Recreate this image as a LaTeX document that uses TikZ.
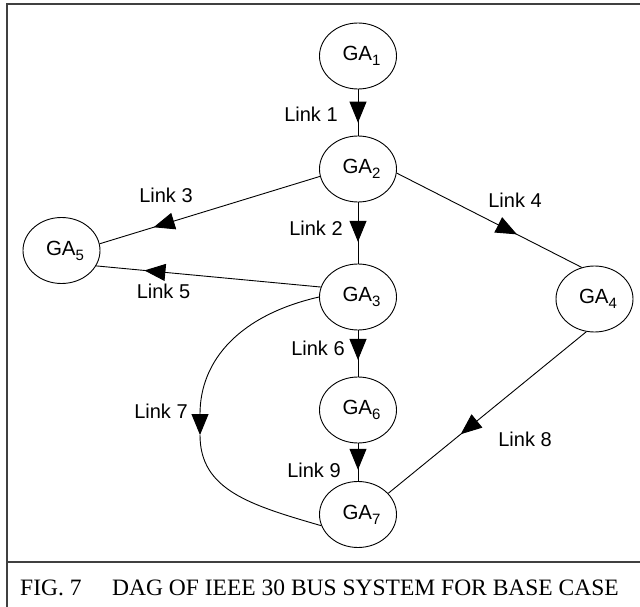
\documentclass[tikz,border=0pt]{standalone}
\usepackage{fontspec}
\setmainfont{Liberation Sans}
\newfontfamily\capfont{Liberation Serif}
\usetikzlibrary{arrows.meta,decorations.markings,shapes.geometric}
\newcommand{\gasub}[1]{\raisebox{-5pt}{\fontsize{15}{15}\selectfont #1}}
\begin{document}
\begin{tikzpicture}[x=1pt,y=1pt,
  ga/.style={draw, ellipse, minimum width=77pt, minimum height=66pt, inner sep=0pt, line width=0.9pt, font=\fontsize{20.5}{24}\selectfont},
  lbl/.style={inner sep=0pt, font=\fontsize{20}{24}\selectfont},
  edge/.style={line width=0.9pt},
  midarrow/.style={postaction={decorate}, decoration={markings, mark=at position #1 with {\arrow{Triangle[length=21pt,width=17pt]}}}},
  frameline/.style={line width=1.5pt, black!75},
  captext/.style={anchor=base west, inner sep=0pt, font=\capfont\fontsize{23.5}{27}\selectfont}
]
\useasboundingbox (0,0) rectangle (640,-607);
\draw[frameline] (7,-607) -- (7,-4) -- (640,-4);
\draw[frameline] (7,-562) -- (640,-562);

\node[ga] (g1) at (358,-56) {\hspace*{7pt}GA\gasub{1}};
\node[ga] (g2) at (358,-169) {\hspace*{7pt}GA\gasub{2}};
\node[ga] (g3) at (358,-297) {\hspace*{7pt}GA\gasub{3}};
\node[ga] (g6) at (358,-410) {\hspace*{7pt}GA\gasub{6}};
\node[ga] (g7) at (358,-514.5) {\hspace*{7pt}GA\gasub{7}};
\node[ga] (g4) at (594.5,-299) {\hspace*{7pt}GA\gasub{4}};
\node[ga] (g5) at (61.5,-250.5) {\hspace*{7pt}GA\gasub{5}};
\coordinate (c7) at (200,-435);

\draw[edge, midarrow=0.72] (g1) -- (g2);
\draw[edge, midarrow=0.645] (g2) -- (g3);
\draw[edge, midarrow=0.755] (g2.191) -- (g5.10);
\draw[edge, midarrow=0.65] (g2.-6) -- (g4.112);
\draw[edge, midarrow=0.785] (g3.165) -- (g5.-24);
\draw[edge, midarrow=0.64] (g3) -- (g6);
\draw[edge, midarrow=0.7] (g6) -- (g7);
\draw[edge, midarrow=0.634] (g4.-104) -- (g7.35);
\draw[edge, -{Triangle[length=21pt,width=17pt]}] (g3.180) .. controls (240,-315) and (200,-360) .. (c7);
\draw[edge] (c7) .. controls (200,-490) and (250,-505) .. (g7.197);

\node[lbl] (l1) at (311,-114) {Link 1};
\node[lbl] (l2) at (316,-228) {Link 2};
\node[lbl] (l3) at (166,-195) {Link 3};
\node[lbl] (l4) at (515,-200) {Link 4};
\node[lbl] (l5) at (163.5,-291) {Link 5};
\node[lbl] (l6) at (318,-348) {Link 6};
\node[lbl] (l7) at (161,-411) {Link 7};
\node[lbl] (l8) at (525,-439) {Link 8};
\node[lbl] (l9) at (314,-470) {Link 9};

\node[captext] (figno) at (20,-595) {FIG. 7};
\node[captext] (captxt) at (112,-595) {DAG OF IEEE 30 BUS SYSTEM FOR BASE CASE};
\end{tikzpicture}
\end{document}
